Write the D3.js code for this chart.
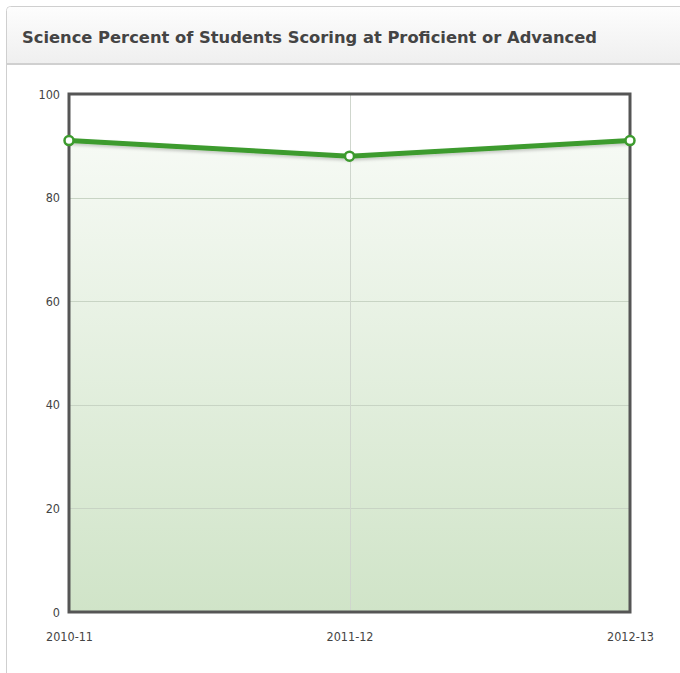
<!DOCTYPE html>
<html>
<head>
  <meta charset="utf-8">
  <title>science proficiency</title>
  <script src="https://d3js.org/d3.v7.min.js"></script>
  <style>
    body { margin: 0; background: #fff; }
    .tick-label { font: 12.5px "DejaVu Sans Condensed", "DejaVu Sans", Verdana, sans-serif; fill: #444; }
    .title { font: bold 16px "DejaVu Sans", Verdana, sans-serif; fill: #444; }
  </style>
</head>
<body>
<script>

    var years = ["2010-11", "2011-12", "2012-13"];
    var values = [91, 88, 91];
    var yTicks = [0, 20, 40, 60, 80, 100];

    var W = 680, H = 673;
    var plot = {left: 69, right: 630, top: 94, bottom: 612};

    var svg = d3.select("body").append("svg")
        .attr("width", W)
        .attr("height", H);

    var defs = svg.append("defs");

    var hg = defs.append("linearGradient").attr("id", "hdr")
        .attr("x1", 0).attr("y1", 0).attr("x2", 0).attr("y2", 1);
    hg.append("stop").attr("offset", "0%").attr("stop-color", "#fdfdfd");
    hg.append("stop").attr("offset", "100%").attr("stop-color", "#efefef");

    var ag = defs.append("linearGradient").attr("id", "area")
        .attr("gradientUnits", "userSpaceOnUse")
        .attr("x1", 0).attr("y1", plot.top).attr("x2", 0).attr("y2", plot.bottom);
    ag.append("stop").attr("offset", "0%").attr("stop-color", "#fafcf9");
    ag.append("stop").attr("offset", "100%").attr("stop-color", "#d0e4c8");

    var shadow = defs.append("filter").attr("id", "shadow")
        .attr("x", "-10%").attr("y", "-50%").attr("width", "120%").attr("height", "200%");
    shadow.append("feDropShadow").attr("dx", 0).attr("dy", 2).attr("stdDeviation", 1.5)
        .attr("flood-color", "#000").attr("flood-opacity", 0.2);

    // panel
    svg.append("rect")
        .attr("x", 6.5).attr("y", 6.5).attr("width", W + 20).attr("height", H + 20)
        .attr("rx", 4)
        .attr("fill", "#fff").attr("stroke", "#cfcfcf");
    svg.append("path")
        .attr("d", "M7,64 L7,11 Q7,7 11,7 L" + (W) + ",7 L" + W + ",64 Z")
        .attr("fill", "url(#hdr)");
    svg.append("line")
        .attr("x1", 7).attr("x2", W).attr("y1", 64).attr("y2", 64)
        .attr("stroke", "#d0d0d0").attr("stroke-width", 2);

    var title = svg.append("text").attr("class", "title")
        .attr("x", 22).attr("y", 43)
        .text("Science Percent of Students Scoring at Proficient or Advanced");
    var tl = title.node().getComputedTextLength();
    if (Math.abs(tl - 575) > 4) title.attr("textLength", 575).attr("lengthAdjust", "spacingAndGlyphs");

    var x = d3.scalePoint().domain(years).range([plot.left, plot.right]);
    var y = d3.scaleLinear().domain([0, 100]).range([plot.bottom, plot.top]);

    // area
    var area = d3.area()
        .x(function(d, i) { return x(years[i]); })
        .y0(y(0))
        .y1(function(d) { return y(d); });
    svg.append("path").datum(values)
        .attr("d", area)
        .attr("fill", "url(#area)");

    // grid
    svg.append("g").selectAll("line")
        .data(yTicks.slice(1, -1))
      .enter().append("line")
        .attr("x1", plot.left).attr("x2", plot.right)
        .attr("y1", function(d) { return Math.round(y(d)) + 0.5; })
        .attr("y2", function(d) { return Math.round(y(d)) + 0.5; })
        .attr("stroke", "#c8d4c4").attr("stroke-width", 1);
    svg.append("g").selectAll("line")
        .data(years.slice(1, -1))
      .enter().append("line")
        .attr("x1", function(d) { return Math.round(x(d)) + 0.5; })
        .attr("x2", function(d) { return Math.round(x(d)) + 0.5; })
        .attr("y1", plot.top).attr("y2", plot.bottom)
        .attr("stroke", "#cfd6cd").attr("stroke-width", 1);

    // frame
    svg.append("rect")
        .attr("x", plot.left).attr("y", plot.top)
        .attr("width", plot.right - plot.left).attr("height", plot.bottom - plot.top)
        .attr("fill", "none").attr("stroke", "#555").attr("stroke-width", 3);

    // axis labels
    var yAxis = d3.axisLeft(y).tickValues(yTicks).tickSize(0).tickPadding(9);
    var ya = svg.append("g").attr("transform", "translate(" + plot.left + ",0)").call(yAxis);
    ya.select(".domain").remove();
    ya.selectAll("text").attr("class", "tick-label");

    var xAxis = d3.axisBottom(x).tickSize(0).tickPadding(20);
    var xa = svg.append("g").attr("transform", "translate(0," + plot.bottom + ")").call(xAxis);
    xa.select(".domain").remove();
    xa.selectAll("text").attr("class", "tick-label");
    ya.attr("font-size", null).attr("font-family", null);
    xa.attr("font-size", null).attr("font-family", null);

    // line
    var line = d3.line()
        .x(function(d, i) { return x(years[i]); })
        .y(function(d) { return y(d); });
    svg.append("path").datum(values)
        .attr("d", line)
        .attr("fill", "none")
        .attr("stroke", "#3d9b2e")
        .attr("stroke-width", 5)
        .attr("filter", "url(#shadow)");

    svg.append("g").selectAll("circle")
        .data(values)
      .enter().append("circle")
        .attr("cx", function(d, i) { return x(years[i]); })
        .attr("cy", function(d) { return y(d); })
        .attr("r", 4.5)
        .attr("fill", "#fff")
        .attr("stroke", "#3d9b2e")
        .attr("stroke-width", 2.5);

</script>
</body>
</html>
